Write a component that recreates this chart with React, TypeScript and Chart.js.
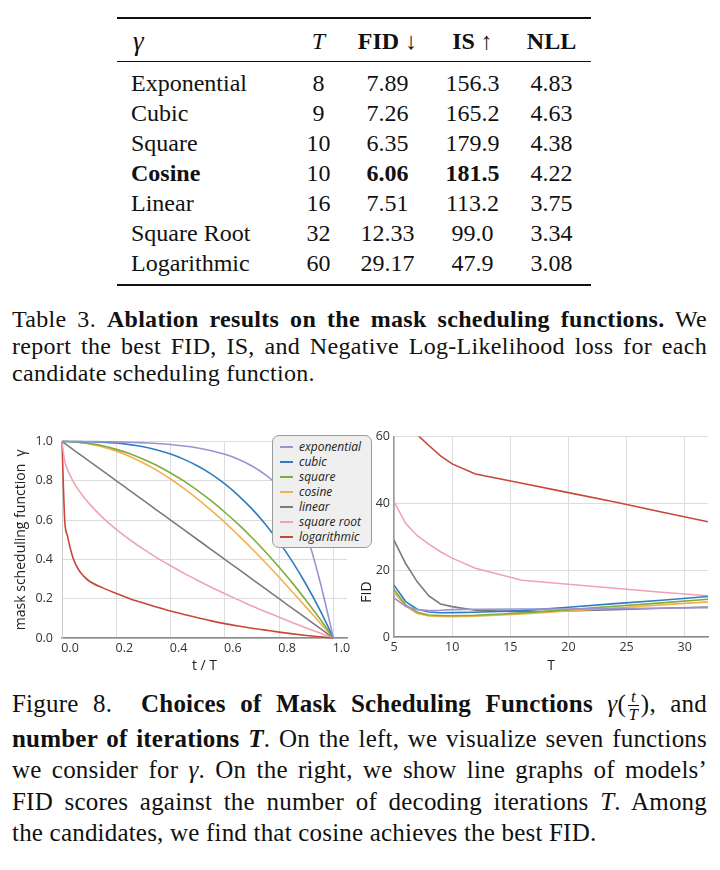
import React, { useEffect, useRef } from 'react';
import { Chart, registerables } from 'chart.js';

Chart.register(...registerables);

// ---------- Table data ----------
const ROW_NAMES = ['Exponential', 'Cubic', 'Square', 'Cosine', 'Linear', 'Square Root', 'Logarithmic'];
const ROW_T = ['8', '9', '10', '10', '16', '32', '60'];
const ROW_FID = ['7.89', '7.26', '6.35', '6.06', '7.51', '12.33', '29.17'];
const ROW_IS = ['156.3', '165.2', '179.9', '181.5', '113.2', '99.0', '47.9'];
const ROW_NLL = ['4.83', '4.63', '4.38', '4.22', '3.75', '3.34', '3.08'];
const BEST_ROW = 3;

// ---------- Series (shared by both plots) ----------
const SERIES_NAMES = ['exponential', 'cubic', 'square', 'cosine', 'linear', 'square root', 'logarithmic'];
const SERIES_COLORS = ['#9d92d6', '#2f7dc0', '#7fad3c', '#f3b14e', '#7b7b7b', '#f0a3b7', '#c8473a'];

// ---------- Left plot: mask scheduling function gamma(t/T) ----------
const GAMMA_X = [0, 0.01, 0.02, 0.04, 0.06, 0.08, 0.1, 0.15, 0.2, 0.25, 0.3, 0.35, 0.4, 0.45, 0.5, 0.55, 0.6, 0.65, 0.7, 0.75, 0.8, 0.85, 0.9, 0.95, 1.0];
const GAMMA_EXPONENTIAL = [1, 1, 1, 1, 1, 1, 1, 0.999, 0.998, 0.996, 0.993, 0.99, 0.985, 0.977, 0.967, 0.953, 0.935, 0.91, 0.875, 0.83, 0.77, 0.68, 0.53, 0.29, 0];
const GAMMA_CUBIC = [1, 1, 1, 1, 1, 0.999, 0.999, 0.997, 0.992, 0.984, 0.973, 0.957, 0.936, 0.909, 0.875, 0.834, 0.784, 0.725, 0.657, 0.578, 0.488, 0.386, 0.271, 0.143, 0];
const GAMMA_SQUARE = [1, 1, 1, 0.998, 0.996, 0.994, 0.99, 0.978, 0.96, 0.938, 0.91, 0.878, 0.84, 0.798, 0.75, 0.698, 0.64, 0.578, 0.51, 0.438, 0.36, 0.278, 0.19, 0.098, 0];
const GAMMA_COSINE = [1, 1, 1, 0.998, 0.996, 0.992, 0.988, 0.972, 0.951, 0.924, 0.891, 0.853, 0.809, 0.76, 0.707, 0.649, 0.588, 0.522, 0.454, 0.383, 0.309, 0.233, 0.156, 0.078, 0];
const GAMMA_LINEAR = [1, 0.99, 0.98, 0.96, 0.94, 0.92, 0.9, 0.85, 0.8, 0.75, 0.7, 0.65, 0.6, 0.55, 0.5, 0.45, 0.4, 0.35, 0.3, 0.25, 0.2, 0.15, 0.1, 0.05, 0];
const GAMMA_SQRT = [1, 0.9, 0.859, 0.8, 0.755, 0.717, 0.684, 0.613, 0.553, 0.5, 0.452, 0.408, 0.368, 0.329, 0.293, 0.258, 0.225, 0.194, 0.163, 0.134, 0.106, 0.078, 0.051, 0.025, 0];
const GAMMA_LOG = [1, 0.6, 0.52, 0.41, 0.35, 0.315, 0.29, 0.255, 0.227, 0.2, 0.178, 0.157, 0.137, 0.12, 0.103, 0.087, 0.073, 0.061, 0.05, 0.04, 0.03, 0.021, 0.013, 0.006, 0];
const GAMMA_X_TICKS = [0, 0.2, 0.4, 0.6, 0.8, 1.0];
const GAMMA_Y_TICKS = [0, 0.2, 0.4, 0.6, 0.8, 1.0];

// ---------- Right plot: FID vs T ----------
const FID_T = [5, 6, 7, 8, 9, 10, 12, 16, 20, 24, 28, 32];
const FID_EXPONENTIAL = [11.7, 9.2, 8.2, 7.89, 8.0, 8.2, 8.3, 8.4, 8.4, 8.5, 8.6, 8.8];
const FID_CUBIC = [15.5, 10.6, 8.3, 7.5, 7.26, 7.3, 7.4, 7.9, 8.9, 10.0, 11.0, 12.1];
const FID_SQUARE = [14.2, 9.6, 7.4, 6.6, 6.45, 6.35, 6.5, 7.2, 8.2, 9.2, 10.2, 11.3];
const FID_COSINE = [13.4, 9.2, 7.0, 6.3, 6.15, 6.06, 6.2, 6.9, 7.8, 8.7, 9.6, 10.5];
const FID_LINEAR = [29.0, 22.0, 16.5, 12.3, 9.9, 9.1, 8.0, 7.51, 7.8, 8.2, 8.6, 9.0];
const FID_SQRT = [40.5, 34.0, 30.3, 27.8, 25.5, 23.6, 20.6, 17.0, 15.8, 14.6, 13.4, 12.33];
const FID_LOG = [70, 65, 60.5, 57.3, 54.2, 51.8, 48.8, 46.0, 43.2, 40.4, 37.4, 34.5];
const FID_X_TICKS = [5, 10, 15, 20, 25, 30];
const FID_Y_TICKS = [0, 20, 40, 60];

const GAMMA_SERIES = [GAMMA_EXPONENTIAL, GAMMA_CUBIC, GAMMA_SQUARE, GAMMA_COSINE, GAMMA_LINEAR, GAMMA_SQRT, GAMMA_LOG];
const FID_SERIES = [FID_EXPONENTIAL, FID_CUBIC, FID_SQUARE, FID_COSINE, FID_LINEAR, FID_SQRT, FID_LOG];

const SANS = '"Open Sans", "Noto Sans", sans-serif';
const SERIF = '"Liberation Serif", "Times New Roman", serif';
const GRID = '#dddddd';
const TICK_COLOR = '#333333';

function buildDatasets(xs: number[], series: number[][], smooth: boolean, clip: any) {
  return series.map((vals, si) => ({
    label: SERIES_NAMES[si],
    data: xs.map((x, i) => ({ x, y: vals[i] })),
    borderColor: SERIES_COLORS[si],
    backgroundColor: SERIES_COLORS[si],
    borderWidth: 1.6,
    pointRadius: 0,
    fill: false,
    tension: 0,
    cubicInterpolationMode: smooth ? 'monotone' : 'default',
    clip,
  }));
}

const fidTitlePlugin = {
  id: 'fidTitle',
  afterDraw(chart: any) {
    const { ctx, chartArea } = chart;
    ctx.save();
    ctx.translate(7, chartArea.bottom - 45);
    ctx.rotate(-Math.PI / 2);
    ctx.font = '14px ' + SANS;
    ctx.fillStyle = '#222';
    ctx.textAlign = 'center';
    ctx.textBaseline = 'middle';
    ctx.fillText('FID', 0, 0);
    ctx.restore();
  },
};

function GammaChart() {
  const ref = useRef<HTMLCanvasElement | null>(null);
  useEffect(() => {
    if (!ref.current) return;
    const chart = new Chart(ref.current, {
      type: 'line',
      data: { datasets: buildDatasets(GAMMA_X, GAMMA_SERIES, true, 6) as any },
      options: {
        animation: false,
        responsive: false,
        maintainAspectRatio: false,
        layout: { padding: { top: 9, right: 13, left: 0, bottom: 0 } },
        plugins: { legend: { display: false }, tooltip: { enabled: false } },
        scales: {
          x: {
            type: 'linear',
            min: 0,
            max: 1.05,
            afterBuildTicks: (ax: any) => { ax.ticks = GAMMA_X_TICKS.map((v) => ({ value: v })); },
            afterFit: (ax: any) => { ax.height = 37; },
            grid: { color: GRID, lineWidth: 1, drawTicks: false },
            border: { color: '#8a8a8a', width: 1.5 },
            ticks: {
              padding: 3,
              labelOffset: 8,
              maxRotation: 0,
              color: TICK_COLOR,
              font: { family: SANS, size: 12.5 },
              callback: (v: any) => Number(v).toFixed(1),
            },
            title: { display: true, text: 't / T', color: '#222', font: { family: SANS, size: 14 }, padding: { top: 0, bottom: 1 } },
          },
          y: {
            type: 'linear',
            min: 0,
            max: 1.0,
            afterBuildTicks: (ax: any) => { ax.ticks = GAMMA_Y_TICKS.map((v) => ({ value: v })); },
            afterFit: (ax: any) => { ax.width = 62; },
            grid: { color: GRID, lineWidth: 1, drawTicks: false },
            border: { color: '#cccccc', width: 1 },
            ticks: {
              padding: 9,
              color: TICK_COLOR,
              font: { family: SANS, size: 12.5 },
              callback: (v: any) => Number(v).toFixed(1),
            },
            title: { display: true, text: 'mask scheduling function  γ', color: '#222', font: { family: SANS, size: 14 }, padding: { top: 13, bottom: 0 } },
          },
        },
      } as any,
    });
    return () => chart.destroy();
  }, []);
  return <canvas ref={ref} width={360} height={250} style={{ width: 360, height: 250, display: 'block' }} />;
}

function FidChart() {
  const ref = useRef<HTMLCanvasElement | null>(null);
  useEffect(() => {
    if (!ref.current) return;
    const chart = new Chart(ref.current, {
      type: 'line',
      data: { datasets: buildDatasets(FID_T, FID_SERIES, false, undefined) as any },
      options: {
        animation: false,
        responsive: false,
        maintainAspectRatio: false,
        layout: { padding: { top: 10, right: 12, left: 0, bottom: 0 } },
        plugins: { legend: { display: false }, tooltip: { enabled: false } },
        scales: {
          x: {
            type: 'linear',
            min: 5,
            max: 32,
            afterBuildTicks: (ax: any) => { ax.ticks = FID_X_TICKS.map((v) => ({ value: v })); },
            afterFit: (ax: any) => { ax.height = 38; },
            grid: { color: GRID, lineWidth: 1, drawTicks: false },
            border: { color: '#8a8a8a', width: 1.5 },
            ticks: { padding: 3, maxRotation: 0, color: TICK_COLOR, font: { family: SANS, size: 12.5 } },
            title: { display: true, text: 'T', color: '#222', font: { family: SANS, size: 14 }, padding: { top: 0, bottom: 1 } },
          },
          y: {
            type: 'linear',
            min: 0,
            max: 60,
            afterBuildTicks: (ax: any) => { ax.ticks = FID_Y_TICKS.map((v) => ({ value: v })); },
            afterFit: (ax: any) => { ax.width = 34; },
            grid: { color: GRID, lineWidth: 1, drawTicks: false },
            border: { color: '#9a9a9a', width: 1.5 },
            ticks: { padding: 4, color: TICK_COLOR, font: { family: SANS, size: 12.5 } },
          },
        },
      } as any,
      plugins: [fidTitlePlugin as any],
    });
    return () => chart.destroy();
  }, []);
  return <canvas ref={ref} width={360} height={250} style={{ width: 360, height: 250, display: 'block' }} />;
}

function Legend() {
  return (
    <div
      style={{
        position: 'absolute', left: 272, top: 435, width: 100, height: 113, boxSizing: 'border-box',
        background: '#efefef', border: '1px solid #9a9a9a', borderRadius: 7, paddingTop: 3,
        fontFamily: SANS, fontStyle: 'italic', fontSize: 12, color: '#222', zIndex: 2,
      }}
    >
      {SERIES_NAMES.map((n, i) => (
        <div key={n} style={{ position: 'relative', height: 15, lineHeight: '15px', paddingLeft: 26 }}>
          <span style={{ position: 'absolute', left: 7, top: 7, width: 13, height: 2, background: SERIES_COLORS[i] }} />
          {n}
        </div>
      ))}
    </div>
  );
}

const COL_CENTERS = [318.5, 387.5, 472.5, 551.5];

function Cell({ x, children, bold }: any) {
  return (
    <div style={{ position: 'absolute', left: x - 50, width: 100, textAlign: 'center', fontWeight: bold ? 'bold' : 'normal' }}>{children}</div>
  );
}

function Table() {
  const rowStyle: any = { position: 'absolute', left: 0, width: 720, height: 30, lineHeight: '30px', fontFamily: SERIF, fontSize: 24, color: '#111' };
  return (
    <>
      <div style={{ position: 'absolute', left: 117, top: 17, width: 474, height: 2, background: '#111' }} />
      <div style={{ ...rowStyle, top: 26 }}>
        <div style={{ position: 'absolute', left: 133, fontStyle: 'italic', fontSize: 27 }}>γ</div>
        <Cell x={COL_CENTERS[0]}><i>T</i></Cell>
        <Cell x={COL_CENTERS[1]} bold>FID ↓</Cell>
        <Cell x={COL_CENTERS[2]} bold>IS ↑</Cell>
        <Cell x={COL_CENTERS[3]} bold>NLL</Cell>
      </div>
      <div style={{ position: 'absolute', left: 117, top: 61, width: 474, height: 1.3, background: '#111' }} />
      {ROW_NAMES.map((name, i) => (
        <div key={name} style={{ ...rowStyle, top: 68 + i * 30 }}>
          <div style={{ position: 'absolute', left: 131, fontWeight: i === BEST_ROW ? 'bold' : 'normal' }}>{name}</div>
          <Cell x={COL_CENTERS[0]}>{ROW_T[i]}</Cell>
          <Cell x={COL_CENTERS[1]} bold={i === BEST_ROW}>{ROW_FID[i]}</Cell>
          <Cell x={COL_CENTERS[2]} bold={i === BEST_ROW}>{ROW_IS[i]}</Cell>
          <Cell x={COL_CENTERS[3]}>{ROW_NLL[i]}</Cell>
        </div>
      ))}
      <div style={{ position: 'absolute', left: 117, top: 284, width: 474, height: 2, background: '#111' }} />
    </>
  );
}

function Line({ children, last }: any) {
  return (
    <div style={{ whiteSpace: 'nowrap', textAlign: last ? 'left' : 'justify', textAlignLast: last ? 'left' : 'justify' } as any}>{children}</div>
  );
}

function Frac() {
  return (
    <span style={{ display: 'inline-flex', flexDirection: 'column', alignItems: 'center', verticalAlign: 'middle', fontSize: 17, lineHeight: '15px', fontStyle: 'italic', margin: '0 2px', position: 'relative', top: -1 }}>
      <span style={{ borderBottom: '1px solid #111', padding: '0 3px 1px' }}>t</span>
      <span style={{ paddingTop: 1 }}>T</span>
    </span>
  );
}

export default function App() {
  return (
    <div style={{ position: 'fixed', left: 0, top: 0, width: 720, height: 870, background: '#fff', overflow: 'hidden', color: '#111' }}>
      <Table />
      <div style={{ position: 'absolute', left: 12, top: 306, width: 695, fontFamily: SERIF, fontSize: 24, lineHeight: '27px', letterSpacing: 0.3 }}>
        <Line>Table 3. <b>Ablation results on the mask scheduling functions.</b> We</Line>
        <Line>report the best FID, IS, and Negative Log-Likelihood loss for each</Line>
        <Line last>candidate scheduling function.</Line>
      </div>
      <div style={{ position: 'absolute', left: 0, top: 425, width: 360, height: 250 }}>
        <GammaChart />
      </div>
      <div style={{ position: 'absolute', left: 360, top: 425, width: 360, height: 250 }}>
        <FidChart />
      </div>
      <Legend />
      <div style={{ position: 'absolute', left: 12, top: 688, width: 695, fontFamily: SERIF, fontSize: 25, lineHeight: '31.5px', letterSpacing: 0.2 }}>
        <Line>Figure 8.&nbsp; <b>Choices of Mask Scheduling Functions</b> <i>γ</i>(<Frac />), and</Line>
        <Line><b>number of iterations <i>T</i></b>. On the left, we visualize seven functions</Line>
        <Line>we consider for <i>γ</i>. On the right, we show line graphs of models’</Line>
        <Line>FID scores against the number of decoding iterations <i>T</i>. Among</Line>
        <Line last>the candidates, we find that cosine achieves the best FID.</Line>
      </div>
    </div>
  );
}
